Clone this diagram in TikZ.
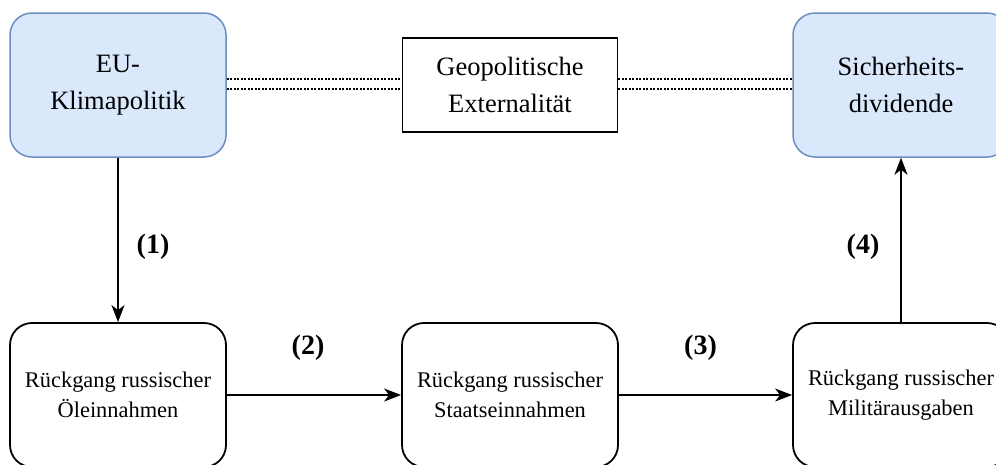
\documentclass[tikz,border=0pt]{standalone}
\usepackage{fontspec}
\setmainfont{Liberation Serif}
\usepackage{tikz}
\usetikzlibrary{calc}
\usetikzlibrary{arrows.meta}
\definecolor{boxblue}{HTML}{DAE8FC}
\definecolor{lineblue}{HTML}{6C8EBF}
\tikzset{
  goalbox/.style={draw=lineblue, fill=boxblue, line width=1.5pt, rounded corners=22pt, minimum width=216pt, minimum height=144pt, align=center, font=\fontsize{26.5}{37}\selectfont},
  effectbox/.style={draw, line width=1.8pt, rounded corners=22pt, minimum width=216pt, minimum height=144pt, align=center, font=\fontsize{22.4}{30}\selectfont},
  extbox/.style={draw, line width=1.8pt, minimum width=215pt, minimum height=94pt, align=center, font=\fontsize{26.5}{37}\selectfont},
  flow/.style={line width=1.6pt, -{Stealth[length=17pt,width=13pt,inset=5pt]}},
  linkline/.style={line width=2pt, dash pattern=on 2pt off 1.5pt},
  steplabel/.style={font=\fontsize{28}{30}\selectfont\bfseries}
}

\begin{document}
\begin{tikzpicture}[x=1pt,y=-1pt]
        \useasboundingbox (0,0) rectangle (996,464);
        \clip (0,0) rectangle (996,464);
        %top row
        \node[goalbox] (eu) at (118,85) {EU-\\Klimapolitik};
        \node[extbox] (geo) at (510,85) {Geopolitische\\Externalität};
        \node[goalbox] (sd) at (901,85) {Sicherheits-\\dividende};
        %bottom row
        \node[effectbox] (oel) at (118,395) {Rückgang russischer\\Öleinnahmen};
        \node[effectbox] (staat) at (510,395) {Rückgang russischer\\Staatseinnahmen};
        \node[effectbox] (mil) at (901,395) {Rückgang russischer\\Militärausgaben};

        \foreach \dy in {6,-4} {
        \draw[linkline] ([yshift=\dy pt]eu.east) -- ([yshift=\dy pt]geo.west);
        \draw[linkline] ([yshift=\dy pt]geo.east) -- ([yshift=\dy pt]sd.west);}

        \draw[flow] (eu) -- node[steplabel, xshift=35pt, yshift=-7pt] {(1)} (oel);
        \draw[flow] (oel) -- node[steplabel, xshift=-6pt, yshift=47pt] {(2)} (staat);
        \draw[flow] (staat) -- node[steplabel, xshift=-5pt, yshift=47pt] {(3)} (mil);
        \draw[flow] (mil) -- node[steplabel, xshift=-38pt, yshift=-7pt] {(4)} (sd);
    \end{tikzpicture}
\end{document}
